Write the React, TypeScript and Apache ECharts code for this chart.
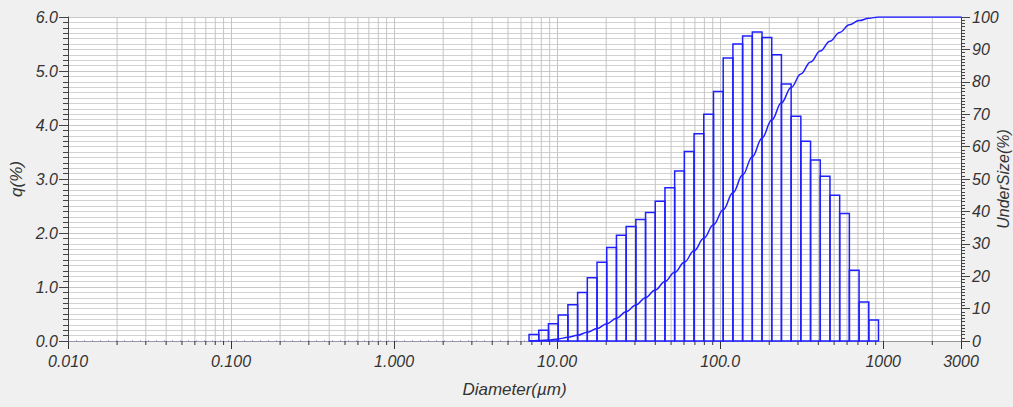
import React, { useEffect, useRef } from "react";
import * as echarts from "echarts";

// Bar centre diameters (µm) and frequency q(%)
const diameters = [7.204, 8.263, 9.478, 10.87, 12.47, 14.3, 16.4, 18.81, 21.58, 24.75, 28.38, 32.55, 37.33, 42.82, 49.1, 56.32, 64.59, 74.08, 84.96, 97.45, 111.8, 128.2, 147.0, 168.6, 193.4, 221.8, 254.4, 291.8, 334.6, 383.8, 440.2, 504.9, 579.0, 664.1, 761.6, 873.5];
const qValues = [0.12, 0.2, 0.32, 0.48, 0.67, 0.9, 1.17, 1.46, 1.73, 1.96, 2.12, 2.25, 2.38, 2.59, 2.84, 3.15, 3.51, 3.84, 4.2, 4.62, 5.24, 5.5, 5.65, 5.72, 5.62, 5.3, 4.76, 4.16, 3.7, 3.35, 3.05, 2.7, 2.36, 1.31, 0.72, 0.39];
const xDecades = [0.01, 0.1, 1, 10, 100, 1000];
const xMin = 0.01;
const xMax = 3000;

const BLUE = "#1f1fff";
const FONT = "Liberation Sans, Arial, sans-serif";

function fmtX(v: number): string {
  if (v < 10) return v.toFixed(3);
  if (v < 100) return v.toFixed(2);
  if (v < 1000) return v.toFixed(1);
  return v.toFixed(0);
}

export default function App() {
  const ref = useRef<HTMLDivElement>(null);
  useEffect(() => {
    if (!ref.current) return;
    const chart = echarts.init(ref.current, undefined, { renderer: "svg" });

    // bin edges from neighbouring centres (geometric mean)
    const n = diameters.length;
    const edges: number[] = [];
    edges.push(diameters[0] * diameters[0] / Math.sqrt(diameters[0] * diameters[1]));
    for (let i = 0; i < n - 1; i++) edges.push(Math.sqrt(diameters[i] * diameters[i + 1]));
    edges.push(diameters[n - 1] * diameters[n - 1] / Math.sqrt(diameters[n - 2] * diameters[n - 1]));

    const barData = qValues.map((q, i) => [edges[i], edges[i + 1], q]);
    const total = qValues.reduce((a, b) => a + b, 0);
    const cum: number[][] = [[edges[0], 0]];
    let s = 0;
    qValues.forEach((q, i) => {
      s += q;
      cum.push([edges[i + 1], (s / total) * 100]);
    });
    cum.push([xMax, 100]);

    const minorX: number[][] = [];
    xDecades.forEach((d) => {
      for (let m = 2; m <= 9; m++) {
        const v = d * m;
        if (v < xMax - 1e-9) minorX.push([v, 0]);
      }
    });

    const labelStyle = { fontFamily: FONT, fontSize: 16, fontStyle: "italic", color: "#333" };
    const nameStyle = { fontFamily: FONT, fontSize: 17, fontStyle: "italic", color: "#333" };

    chart.setOption({
      animation: false,
      backgroundColor: "#f0f0f0",
      grid: { left: 68, right: 52, top: 17, bottom: 66, show: true, backgroundColor: "#ffffff", borderWidth: 0, containLabel: false, outerBoundsMode: "none" },
      xAxis: {
        type: "log",
        logBase: 10,
        min: xMin,
        max: xMax,
        axisLine: { show: true, onZero: false, lineStyle: { color: "#9a9a9a", width: 1 } },
        axisTick: { show: true, length: 8, lineStyle: { color: "#333" } },
        axisLabel: { ...labelStyle, margin: 12, formatter: (v: number) => fmtX(v) },
        splitLine: { show: true, lineStyle: { color: "#c4c4c4", width: 1 } },
        name: "Diameter(µm)",
        nameLocation: "middle",
        nameGap: 40,
        nameTextStyle: nameStyle,
      },
      yAxis: [
        {
          type: "value",
          position: "left",
          min: 0,
          max: 6,
          interval: 1,
          axisLine: { show: true, lineStyle: { color: "#444", width: 1 } },
          axisTick: { show: true, length: 9, lineStyle: { color: "#444" } },
          minorTick: { show: true, splitNumber: 10, length: 5, lineStyle: { color: "#444" } },
          axisLabel: { ...labelStyle, margin: 10, formatter: (v: number) => v.toFixed(1) },
          splitLine: { show: true, lineStyle: { color: "#c8c8c8", width: 1 } },
          minorSplitLine: { show: true, lineStyle: { color: "#d2d2d2", width: 1 } },
          name: "q(%)",
          nameLocation: "middle",
          nameGap: 41,
          nameTextStyle: nameStyle,
        },
        {
          type: "value",
          position: "right",
          min: 0,
          max: 100,
          interval: 10,
          axisLine: { show: true, lineStyle: { color: "#444", width: 1 } },
          axisTick: { show: true, length: 9, lineStyle: { color: "#444" } },
          minorTick: { show: true, splitNumber: 10, length: 4, lineStyle: { color: "#444" } },
          axisLabel: { ...labelStyle, margin: 11 },
          splitLine: { show: false },
          name: "UnderSize(%)",
          nameLocation: "middle",
          nameGap: 34,
          nameMoveOverlap: false,
          nameTextStyle: { ...nameStyle, fontSize: 16 },
        },
      ],
      series: [
        {
          type: "custom",
          z: 1,
          clip: false,
          silent: true,
          data: minorX,
          encode: { x: 0, y: 1 },
          renderItem: (params: any, api: any) => {
            const v = api.value(0);
            const p = api.coord([v, 0]);
            const cs = params.coordSys;
            return {
              type: "group",
              children: [
                { type: "line", shape: { x1: p[0], y1: cs.y, x2: p[0], y2: cs.y + cs.height }, style: { stroke: "#c4c4c4", lineWidth: 1 } },
                { type: "line", shape: { x1: p[0], y1: cs.y + cs.height, x2: p[0], y2: cs.y + cs.height + 4 }, style: { stroke: "#333", lineWidth: 1 } },
              ],
            };
          },
        },
        {
          type: "line",
          z: 2,
          data: [[xMin, 0], [edges[0], 0]],
          showSymbol: false,
          lineStyle: { color: "#5050ff", width: 1, type: [1, 7] },
        },
        {
          type: "custom",
          z: 3,
          data: barData,
          encode: { x: [0, 1], y: 2 },
          renderItem: (params: any, api: any) => {
            const p0 = api.coord([api.value(0), 0]);
            const p1 = api.coord([api.value(1), api.value(2)]);
            return {
              type: "rect",
              shape: { x: p0[0], y: p1[1], width: p1[0] - p0[0], height: p0[1] - p1[1] },
              style: { fill: "none", stroke: BLUE, lineWidth: 1.5 },
            };
          },
        },
        {
          type: "line",
          z: 4,
          yAxisIndex: 1,
          data: cum,
          smooth: 0.4,
          smoothMonotone: "x",
          showSymbol: false,
          lineStyle: { color: BLUE, width: 1.5 },
        },
      ],
    });
    return () => chart.dispose();
  }, []);
  return <div ref={ref} style={{ position: "fixed", left: 0, top: 0, width: 1013, height: 407 }} />;
}
